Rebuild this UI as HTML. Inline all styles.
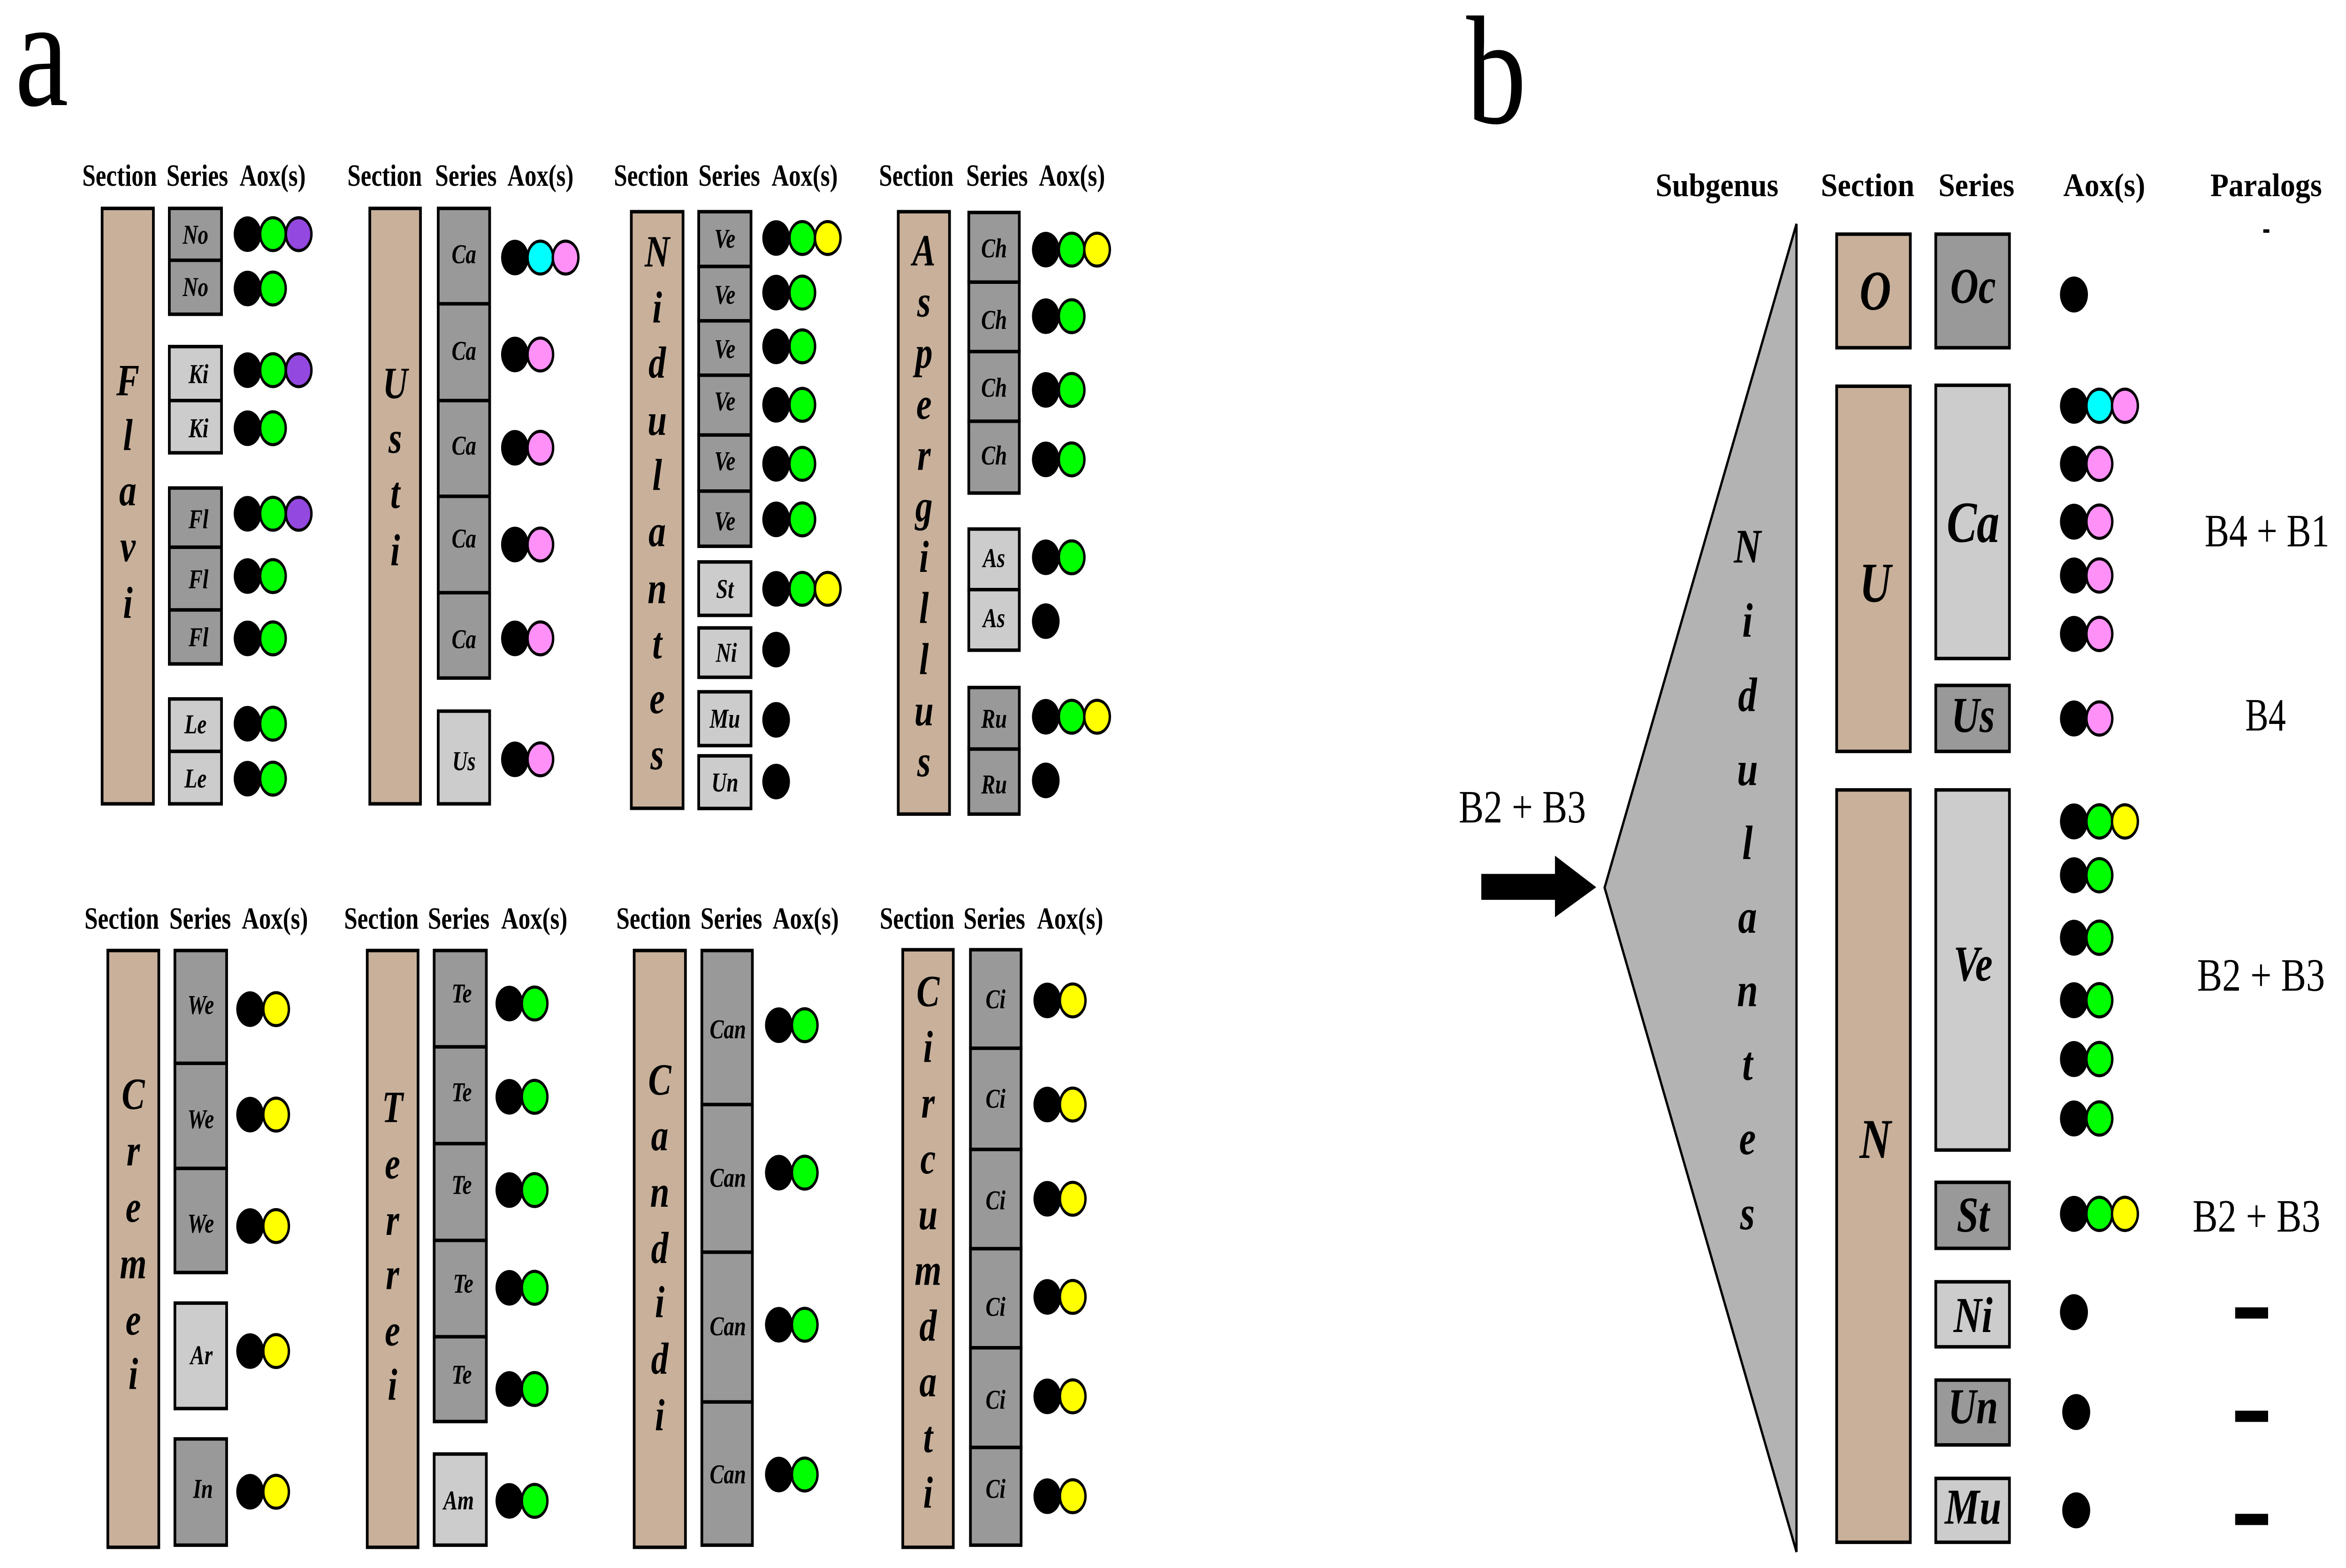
<!DOCTYPE html>
<html><head><meta charset="utf-8"><style>
html,body{margin:0;padding:0;background:#fff;width:100%;height:100%;overflow:hidden}
svg{display:block;position:absolute;left:0;top:0;width:100vw;height:100vh}
text{font-family:"Liberation Serif",serif;fill:#000}
.h{font-weight:bold;font-size:16px}
.L{font-weight:bold;font-style:italic;font-size:23px;text-anchor:middle}
.s{font-weight:bold;font-style:italic;font-size:14px;text-anchor:middle}
.sb{font-weight:bold;font-style:italic;font-size:26px;text-anchor:middle}
.r{font-size:24px}
.t{fill:#c8b09a;stroke:#000;stroke-width:1.8}
.d{fill:#999;stroke:#000;stroke-width:1.8}
.l{fill:#ccc;stroke:#000;stroke-width:1.8}
.k{fill:#000}
.g{fill:#00ff00;stroke:#000;stroke-width:1.6}
.p{fill:#9348e0;stroke:#000;stroke-width:1.6}
.c{fill:#00ffff;stroke:#000;stroke-width:1.6}
.m{fill:#ff90f8;stroke:#000;stroke-width:1.6}
.y{fill:#ffff00;stroke:#000;stroke-width:1.6}
</style></head><body>
<svg viewBox="0 0 1560 810.3" preserveAspectRatio="none" xmlns="http://www.w3.org/2000/svg">
<text x="10" y="54.3" style="font-size:80px">a</text>
<text x="975" y="63.5" style="font-size:80px">b</text>

<g class="h">
<text x="54.7" y="96" textLength="49.6" lengthAdjust="spacingAndGlyphs">Section</text>
<text x="110.7" y="96" textLength="41" lengthAdjust="spacingAndGlyphs">Series</text>
<text x="159.3" y="96" textLength="44" lengthAdjust="spacingAndGlyphs">Aox(s)</text>
<text x="231" y="96" textLength="49.6" lengthAdjust="spacingAndGlyphs">Section</text>
<text x="289.3" y="96" textLength="41" lengthAdjust="spacingAndGlyphs">Series</text>
<text x="337.4" y="96" textLength="44" lengthAdjust="spacingAndGlyphs">Aox(s)</text>
<text x="408.2" y="96" textLength="49.6" lengthAdjust="spacingAndGlyphs">Section</text>
<text x="464.4" y="96" textLength="41" lengthAdjust="spacingAndGlyphs">Series</text>
<text x="513.1" y="96" textLength="44" lengthAdjust="spacingAndGlyphs">Aox(s)</text>
<text x="584.5" y="96" textLength="49.6" lengthAdjust="spacingAndGlyphs">Section</text>
<text x="642.5" y="96" textLength="41" lengthAdjust="spacingAndGlyphs">Series</text>
<text x="690.8" y="96" textLength="44" lengthAdjust="spacingAndGlyphs">Aox(s)</text>
<text x="56.2" y="480" textLength="49.6" lengthAdjust="spacingAndGlyphs">Section</text>
<text x="112.6" y="480" textLength="41" lengthAdjust="spacingAndGlyphs">Series</text>
<text x="160.8" y="480" textLength="44" lengthAdjust="spacingAndGlyphs">Aox(s)</text>
<text x="228.8" y="480" textLength="49.6" lengthAdjust="spacingAndGlyphs">Section</text>
<text x="284.5" y="480" textLength="41" lengthAdjust="spacingAndGlyphs">Series</text>
<text x="333.3" y="480" textLength="44" lengthAdjust="spacingAndGlyphs">Aox(s)</text>
<text x="409.8" y="480" textLength="49.6" lengthAdjust="spacingAndGlyphs">Section</text>
<text x="465.8" y="480" textLength="41" lengthAdjust="spacingAndGlyphs">Series</text>
<text x="513.8" y="480" textLength="44" lengthAdjust="spacingAndGlyphs">Aox(s)</text>
<text x="585" y="480" textLength="49.6" lengthAdjust="spacingAndGlyphs">Section</text>
<text x="640.7" y="480" textLength="41" lengthAdjust="spacingAndGlyphs">Series</text>
<text x="689.6" y="480" textLength="44" lengthAdjust="spacingAndGlyphs">Aox(s)</text>
</g>

<!-- FLAVI -->
<rect class="t" x="67.9" y="107.7" width="34.1" height="307.7"/>
<g class="L"><text x="85" y="204.3">F</text><text x="85" y="232.7">l</text><text x="85" y="261.1">a</text><text x="85" y="290">v</text><text x="85" y="319.3">i</text></g>
<rect class="d" x="112.6" y="107.7" width="34.7" height="26.8"/>
<rect class="d" x="112.6" y="134.5" width="34.7" height="27.9"/>
<rect class="l" x="112.6" y="179.1" width="34.7" height="27.9"/>
<rect class="l" x="112.6" y="207" width="34.7" height="27"/>
<rect class="d" x="112.6" y="252.2" width="34.7" height="30.6"/>
<rect class="d" x="112.6" y="282.8" width="34.7" height="32.4"/>
<rect class="d" x="112.6" y="315.2" width="34.7" height="27.9"/>
<rect class="l" x="112.6" y="361.2" width="34.7" height="27.1"/>
<rect class="l" x="112.6" y="388.3" width="34.7" height="27.1"/>
<g class="s"><text x="130" y="126">No</text><text x="130" y="153">No</text><text x="132" y="198">Ki</text><text x="132" y="226">Ki</text><text x="132" y="273">Fl</text><text x="132" y="304">Fl</text><text x="132" y="334">Fl</text><text x="130" y="379">Le</text><text x="130" y="407">Le</text></g>
<g>
<circle class="k" cx="164.6" cy="121" r="9.2"/><circle class="g" cx="181.5" cy="121" r="8.5"/><circle class="p" cx="198.6" cy="121" r="8.5"/>
<circle class="k" cx="164.6" cy="149.1" r="9.2"/><circle class="g" cx="181.5" cy="149.1" r="8.5"/>
<circle class="k" cx="164.6" cy="191.3" r="9.2"/><circle class="g" cx="181.5" cy="191.3" r="8.5"/><circle class="p" cx="198.6" cy="191.3" r="8.5"/>
<circle class="k" cx="164.6" cy="221.3" r="9.2"/><circle class="g" cx="181.5" cy="221.3" r="8.5"/>
<circle class="k" cx="164.6" cy="265.5" r="9.2"/><circle class="g" cx="181.5" cy="265.5" r="8.5"/><circle class="p" cx="198.6" cy="265.5" r="8.5"/>
<circle class="k" cx="164.6" cy="297.7" r="9.2"/><circle class="g" cx="181.5" cy="297.7" r="8.5"/>
<circle class="k" cx="164.6" cy="329.9" r="9.2"/><circle class="g" cx="181.5" cy="329.9" r="8.5"/>
<circle class="k" cx="164.6" cy="374" r="9.2"/><circle class="g" cx="181.5" cy="374" r="8.5"/>
<circle class="k" cx="164.6" cy="402.4" r="9.2"/><circle class="g" cx="181.5" cy="402.4" r="8.5"/>
</g>

<!-- USTI -->
<rect class="t" x="245.9" y="107.7" width="33.7" height="307.7"/>
<g class="L"><text x="262.8" y="205.7">U</text><text x="262.8" y="234">s</text><text x="262.8" y="262.5">t</text><text x="262.8" y="292.2">i</text></g>
<rect class="d" x="291.4" y="107.7" width="34.2" height="49.3"/>
<rect class="d" x="291.4" y="157" width="34.2" height="50"/>
<rect class="d" x="291.4" y="207" width="34.2" height="49.5"/>
<rect class="d" x="291.4" y="256.5" width="34.2" height="49.8"/>
<rect class="d" x="291.4" y="306.3" width="34.2" height="44.1"/>
<rect class="l" x="291.4" y="367.5" width="34.2" height="47.9"/>
<g class="s"><text x="308.5" y="136">Ca</text><text x="308.5" y="186">Ca</text><text x="308.5" y="235">Ca</text><text x="308.5" y="283">Ca</text><text x="308.5" y="335">Ca</text><text x="308.5" y="398">Us</text></g>
<g>
<circle class="k" cx="342.4" cy="133.1" r="9.2"/><circle class="c" cx="359.3" cy="133.1" r="8.5"/><circle class="m" cx="376.1" cy="133.1" r="8.5"/>
<circle class="k" cx="342.4" cy="183.2" r="9.2"/><circle class="m" cx="359.3" cy="183.2" r="8.5"/>
<circle class="k" cx="342.4" cy="231.4" r="9.2"/><circle class="m" cx="359.3" cy="231.4" r="8.5"/>
<circle class="k" cx="342.4" cy="281.4" r="9.2"/><circle class="m" cx="359.3" cy="281.4" r="8.5"/>
<circle class="k" cx="342.4" cy="329.9" r="9.2"/><circle class="m" cx="359.3" cy="329.9" r="8.5"/>
<circle class="k" cx="342.4" cy="392.4" r="9.2"/><circle class="m" cx="359.3" cy="392.4" r="8.5"/>
</g>

<!-- NIDULANTES (a) -->
<rect class="t" x="419.8" y="109.4" width="34.4" height="308.3"/>
<g class="L"><text x="437" y="137.7">N</text><text x="437" y="166.7">i</text><text x="437" y="195.2">d</text><text x="437" y="224.7">u</text><text x="437" y="253.2">l</text><text x="437" y="282.2">a</text><text x="437" y="311.7">n</text><text x="437" y="340.2">t</text><text x="437" y="368.5">e</text><text x="437" y="397.5">s</text></g>
<rect class="d" x="464.6" y="109.4" width="34.8" height="28.3"/>
<rect class="d" x="464.6" y="137.7" width="34.8" height="28.1"/>
<rect class="d" x="464.6" y="165.8" width="34.8" height="28.1"/>
<rect class="d" x="464.6" y="193.9" width="34.8" height="30.9"/>
<rect class="d" x="464.6" y="224.8" width="34.8" height="29"/>
<rect class="d" x="464.6" y="253.8" width="34.8" height="28.5"/>
<rect class="l" x="464.6" y="290.4" width="34.8" height="27.6"/>
<rect class="l" x="464.6" y="324.5" width="34.8" height="25.5"/>
<rect class="l" x="464.6" y="357.5" width="34.8" height="27.8"/>
<rect class="l" x="464.6" y="390.6" width="34.8" height="27.2"/>
<g class="s"><text x="482" y="128">Ve</text><text x="482" y="157">Ve</text><text x="482" y="185">Ve</text><text x="482" y="212">Ve</text><text x="482" y="243">Ve</text><text x="482" y="274">Ve</text><text x="482" y="309">St</text><text x="483" y="342">Ni</text><text x="482" y="376">Mu</text><text x="482" y="409">Un</text></g>
<g>
<circle class="k" cx="516.1" cy="123" r="9.2"/><circle class="g" cx="533.5" cy="123" r="8.5"/><circle class="y" cx="550.4" cy="123" r="8.5"/>
<circle class="k" cx="516.1" cy="151.2" r="9.2"/><circle class="g" cx="533.5" cy="151.2" r="8.5"/>
<circle class="k" cx="516.1" cy="179" r="9.2"/><circle class="g" cx="533.5" cy="179" r="8.5"/>
<circle class="k" cx="516.1" cy="209.2" r="9.2"/><circle class="g" cx="533.5" cy="209.2" r="8.5"/>
<circle class="k" cx="516.1" cy="239.7" r="9.2"/><circle class="g" cx="533.5" cy="239.7" r="8.5"/>
<circle class="k" cx="516.1" cy="268.4" r="9.2"/><circle class="g" cx="533.5" cy="268.4" r="8.5"/>
<circle class="k" cx="516.1" cy="304.3" r="9.2"/><circle class="g" cx="533.5" cy="304.3" r="8.5"/><circle class="y" cx="550.4" cy="304.3" r="8.5"/>
<circle class="k" cx="516.1" cy="335.7" r="9.2"/>
<circle class="k" cx="516.1" cy="372" r="9.2"/>
<circle class="k" cx="516.1" cy="403.9" r="9.2"/>
</g>

<!-- ASPERGILLUS -->
<rect class="t" x="597.3" y="109.4" width="34.1" height="311.3"/>
<g class="L"><text x="614.4" y="137.2">A</text><text x="614.4" y="163.6">s</text><text x="614.4" y="190">p</text><text x="614.4" y="216.4">e</text><text x="614.4" y="242.8">r</text><text x="614.4" y="269.2">g</text><text x="614.4" y="295.6">i</text><text x="614.4" y="322">l</text><text x="614.4" y="348.4">l</text><text x="614.4" y="374.8">u</text><text x="614.4" y="401.2">s</text></g>
<rect class="d" x="644.2" y="109.8" width="33.6" height="36"/>
<rect class="d" x="644.2" y="145.8" width="33.6" height="35.9"/>
<rect class="d" x="644.2" y="181.7" width="33.6" height="36"/>
<rect class="d" x="644.2" y="217.7" width="33.6" height="37.1"/>
<rect class="l" x="644.2" y="273.4" width="33.6" height="31.3"/>
<rect class="l" x="644.2" y="304.7" width="33.6" height="31.3"/>
<rect class="d" x="644.2" y="355.3" width="33.6" height="31.8"/>
<rect class="d" x="644.2" y="387.1" width="33.6" height="33.6"/>
<g class="s"><text x="661" y="133">Ch</text><text x="661" y="170">Ch</text><text x="661" y="205">Ch</text><text x="661" y="240">Ch</text><text x="661" y="293">As</text><text x="661" y="324">As</text><text x="661" y="376">Ru</text><text x="661" y="410">Ru</text></g>
<g>
<circle class="k" cx="695.4" cy="129" r="9.2"/><circle class="g" cx="712.6" cy="129" r="8.5"/><circle class="y" cx="729.5" cy="129" r="8.5"/>
<circle class="k" cx="695.4" cy="163.4" r="9.2"/><circle class="g" cx="712.6" cy="163.4" r="8.5"/>
<circle class="k" cx="695.4" cy="201.5" r="9.2"/><circle class="g" cx="712.6" cy="201.5" r="8.5"/>
<circle class="k" cx="695.4" cy="237.4" r="9.2"/><circle class="g" cx="712.6" cy="237.4" r="8.5"/>
<circle class="k" cx="695.4" cy="288" r="9.2"/><circle class="g" cx="712.6" cy="288" r="8.5"/>
<circle class="k" cx="695.4" cy="321" r="9.2"/>
<circle class="k" cx="695.4" cy="370.4" r="9.2"/><circle class="g" cx="712.6" cy="370.4" r="8.5"/><circle class="y" cx="729.5" cy="370.4" r="8.5"/>
<circle class="k" cx="695.4" cy="403.3" r="9.2"/>
</g>

<!-- CREMEI -->
<rect class="t" x="71.7" y="491.2" width="33.9" height="308.4"/>
<g class="L"><text x="88.6" y="573">C</text><text x="88.6" y="602.3">r</text><text x="88.6" y="631.4">e</text><text x="88.6" y="660.6">m</text><text x="88.6" y="689.7">e</text><text x="88.6" y="717.8">i</text></g>
<rect class="d" x="116.3" y="491.2" width="34.4" height="58.3"/>
<rect class="d" x="116.3" y="549.5" width="34.4" height="54.3"/>
<rect class="d" x="116.3" y="603.8" width="34.4" height="53.8"/>
<rect class="l" x="116.3" y="673.4" width="34.4" height="54.5"/>
<rect class="d" x="116.3" y="743.6" width="34.4" height="54.9"/>
<g class="s"><text x="133.5" y="524">We</text><text x="133.5" y="583">We</text><text x="133.5" y="637">We</text><text x="134" y="705">Ar</text><text x="135" y="774">In</text></g>
<g>
<circle class="k" cx="166.3" cy="521.5" r="9.2"/><circle class="y" cx="183.6" cy="521.5" r="8.5"/>
<circle class="k" cx="166.3" cy="576" r="9.2"/><circle class="y" cx="183.6" cy="576" r="8.5"/>
<circle class="k" cx="166.3" cy="633.6" r="9.2"/><circle class="y" cx="183.6" cy="633.6" r="8.5"/>
<circle class="k" cx="166.3" cy="698.2" r="9.2"/><circle class="y" cx="183.6" cy="698.2" r="8.5"/>
<circle class="k" cx="166.3" cy="770.9" r="9.2"/><circle class="y" cx="183.6" cy="770.9" r="8.5"/>
</g>

<!-- TERREI -->
<rect class="t" x="244.2" y="491.2" width="33.8" height="308.4"/>
<g class="L"><text x="261" y="579.8">T</text><text x="261" y="609">e</text><text x="261" y="638.1">r</text><text x="261" y="666.2">r</text><text x="261" y="695.3">e</text><text x="261" y="723.4">i</text></g>
<rect class="d" x="288.7" y="491.2" width="34.7" height="49.8"/>
<rect class="d" x="288.7" y="541" width="34.7" height="50"/>
<rect class="d" x="288.7" y="591" width="34.7" height="50"/>
<rect class="d" x="288.7" y="641" width="34.7" height="49.8"/>
<rect class="d" x="288.7" y="690.8" width="34.7" height="43.8"/>
<rect class="l" x="288.7" y="751.4" width="34.7" height="47.1"/>
<g class="s"><text x="307" y="518">Te</text><text x="307" y="569">Te</text><text x="307" y="617">Te</text><text x="308" y="668">Te</text><text x="307" y="715">Te</text><text x="305" y="780">Am</text></g>
<g>
<circle class="k" cx="338.7" cy="518.6" r="9.2"/><circle class="g" cx="355.5" cy="518.6" r="8.5"/>
<circle class="k" cx="338.7" cy="566.8" r="9.2"/><circle class="g" cx="355.5" cy="566.8" r="8.5"/>
<circle class="k" cx="338.7" cy="615" r="9.2"/><circle class="g" cx="355.5" cy="615" r="8.5"/>
<circle class="k" cx="338.7" cy="665.5" r="9.2"/><circle class="g" cx="355.5" cy="665.5" r="8.5"/>
<circle class="k" cx="338.7" cy="717.8" r="9.2"/><circle class="g" cx="355.5" cy="717.8" r="8.5"/>
<circle class="k" cx="338.7" cy="775.6" r="9.2"/><circle class="g" cx="355.5" cy="775.6" r="8.5"/>
</g>

<!-- CANDIDI -->
<rect class="t" x="421.7" y="491.2" width="34.1" height="308.4"/>
<g class="L"><text x="438.7" y="565.7">C</text><text x="438.7" y="594.4">a</text><text x="438.7" y="623.6">n</text><text x="438.7" y="652.7">d</text><text x="438.7" y="680.7">i</text><text x="438.7" y="709.9">d</text><text x="438.7" y="739.1">i</text></g>
<rect class="d" x="466.7" y="491.2" width="33.6" height="79.6"/>
<rect class="d" x="466.7" y="570.8" width="33.6" height="76.3"/>
<rect class="d" x="466.7" y="647.1" width="33.6" height="77.4"/>
<rect class="d" x="466.7" y="724.5" width="33.6" height="74"/>
<g class="s"><text x="484" y="536.6">Can</text><text x="484" y="613.3">Can</text><text x="484" y="690">Can</text><text x="484" y="766.5">Can</text></g>
<g>
<circle class="k" cx="517.9" cy="529.8" r="9.2"/><circle class="g" cx="535.1" cy="529.8" r="8.5"/>
<circle class="k" cx="517.9" cy="606" r="9.2"/><circle class="g" cx="535.1" cy="606" r="8.5"/>
<circle class="k" cx="517.9" cy="684.6" r="9.2"/><circle class="g" cx="535.1" cy="684.6" r="8.5"/>
<circle class="k" cx="517.9" cy="762" r="9.2"/><circle class="g" cx="535.1" cy="762" r="8.5"/>
</g>

<!-- CIRCUMDATI -->
<rect class="t" x="600.3" y="490.8" width="33.6" height="308.8"/>
<g class="L"><text x="617.1" y="520">C</text><text x="617.1" y="548.8">i</text><text x="617.1" y="577.6">r</text><text x="617.1" y="606.4">c</text><text x="617.1" y="635.2">u</text><text x="617.1" y="664">m</text><text x="617.1" y="692.8">d</text><text x="617.1" y="721.6">a</text><text x="617.1" y="750.4">t</text><text x="617.1" y="779.2">i</text></g>
<rect class="d" x="645.3" y="490.8" width="33.7" height="50.9"/>
<rect class="d" x="645.3" y="541.7" width="33.7" height="52.3"/>
<rect class="d" x="645.3" y="594" width="33.7" height="51.3"/>
<rect class="d" x="645.3" y="645.3" width="33.7" height="51.2"/>
<rect class="d" x="645.3" y="696.5" width="33.7" height="51.5"/>
<rect class="d" x="645.3" y="748" width="33.7" height="50.5"/>
<g class="s"><text x="662" y="521">Ci</text><text x="662" y="572.5">Ci</text><text x="662" y="625">Ci</text><text x="662" y="680">Ci</text><text x="662" y="728">Ci</text><text x="662" y="774">Ci</text></g>
<g>
<circle class="k" cx="696.4" cy="517" r="9.2"/><circle class="y" cx="713.3" cy="517" r="8.5"/>
<circle class="k" cx="696.4" cy="570.8" r="9.2"/><circle class="y" cx="713.3" cy="570.8" r="8.5"/>
<circle class="k" cx="696.4" cy="619.5" r="9.2"/><circle class="y" cx="713.3" cy="619.5" r="8.5"/>
<circle class="k" cx="696.4" cy="670.2" r="9.2"/><circle class="y" cx="713.3" cy="670.2" r="8.5"/>
<circle class="k" cx="696.4" cy="721.6" r="9.2"/><circle class="y" cx="713.3" cy="721.6" r="8.5"/>
<circle class="k" cx="696.4" cy="773.2" r="9.2"/><circle class="y" cx="713.3" cy="773.2" r="8.5"/>
</g>

<!-- PANEL B -->
<g class="h" style="font-size:17px">
<text x="1100.9" y="101.4" textLength="81.7" lengthAdjust="spacingAndGlyphs">Subgenus</text>
<text x="1210.8" y="101.4" textLength="62.2" lengthAdjust="spacingAndGlyphs">Section</text>
<text x="1289" y="101.4" textLength="50.5" lengthAdjust="spacingAndGlyphs">Series</text>
<text x="1372" y="101.4" textLength="54.5" lengthAdjust="spacingAndGlyphs">Aox(s)</text>
<text x="1469.8" y="101.4" textLength="74.2" lengthAdjust="spacingAndGlyphs">Paralogs</text>
</g>
<rect x="1505" y="118.5" width="4" height="1.8" fill="#000"/>

<polygon points="1194.6,115.7 1194.6,802 1067,458.7" fill="#b3b3b3" stroke="#000" stroke-width="1.5"/>
<g class="L" style="font-size:25px"><text x="1162" y="290.7">N</text><text x="1162" y="329">i</text><text x="1162" y="367.4">d</text><text x="1162" y="405.8">u</text><text x="1162" y="444">l</text><text x="1162" y="482">a</text><text x="1162" y="520">n</text><text x="1162" y="558">t</text><text x="1162" y="596.4">e</text><text x="1162" y="635.2">s</text></g>

<polygon points="985,451.6 1034,451.6 1034,442.2 1061.4,458.5 1034,474 1034,465 985,465" fill="#000"/>
<text class="r" x="970" y="425" textLength="84.6" lengthAdjust="spacingAndGlyphs">B2 + B3</text>

<rect class="t" x="1221.3" y="121" width="49" height="58.7"/>
<rect class="t" x="1221.3" y="199.6" width="49" height="188.7"/>
<rect class="t" x="1221.3" y="408.2" width="49" height="388.8"/>
<g class="sb" style="font-size:29px"><text x="1247" y="160">O</text><text x="1247" y="311">U</text><text x="1247" y="598.4">N</text></g>

<rect class="d" x="1287.2" y="121" width="49" height="58.7"/>
<rect class="l" x="1287.2" y="199.1" width="49" height="141.2"/>
<rect class="d" x="1287.2" y="354.2" width="49" height="34.1"/>
<rect class="l" x="1287.2" y="408.2" width="49" height="186.1"/>
<rect class="d" x="1287.2" y="611" width="49" height="34.1"/>
<rect class="l" x="1287.2" y="662.4" width="49" height="33.6"/>
<rect class="d" x="1287.2" y="713.2" width="49" height="33.5"/>
<rect class="l" x="1287.2" y="764" width="49" height="33"/>
<g class="sb"><text x="1312" y="156.5">Oc</text><text x="1312" y="280" style="font-size:30px">Ca</text><text x="1312" y="378.2">Us</text><text x="1312" y="506.7">Ve</text><text x="1312" y="636.5">St</text><text x="1312" y="688.3">Ni</text><text x="1312" y="735.5">Un</text><text x="1312" y="787.4">Mu</text></g>

<g>
<circle class="k" cx="1379.1" cy="152.2" r="9.3"/>
<circle class="k" cx="1379.1" cy="209.7" r="9.3"/><circle class="c" cx="1396" cy="209.7" r="8.6"/><circle class="m" cx="1413" cy="209.7" r="8.6"/>
<circle class="k" cx="1379.1" cy="239.7" r="9.3"/><circle class="m" cx="1396" cy="239.7" r="8.6"/>
<circle class="k" cx="1379.1" cy="269.6" r="9.3"/><circle class="m" cx="1396" cy="269.6" r="8.6"/>
<circle class="k" cx="1379.1" cy="297.4" r="9.3"/><circle class="m" cx="1396" cy="297.4" r="8.6"/>
<circle class="k" cx="1379.1" cy="327.6" r="9.3"/><circle class="m" cx="1396" cy="327.6" r="8.6"/>
<circle class="k" cx="1379.1" cy="371.3" r="9.3"/><circle class="m" cx="1396" cy="371.3" r="8.6"/>
<circle class="k" cx="1379.1" cy="424.5" r="9.3"/><circle class="g" cx="1396" cy="424.5" r="8.6"/><circle class="y" cx="1413" cy="424.5" r="8.6"/>
<circle class="k" cx="1379.1" cy="452.3" r="9.3"/><circle class="g" cx="1396" cy="452.3" r="8.6"/>
<circle class="k" cx="1379.1" cy="484.6" r="9.3"/><circle class="g" cx="1396" cy="484.6" r="8.6"/>
<circle class="k" cx="1379.1" cy="516.9" r="9.3"/><circle class="g" cx="1396" cy="516.9" r="8.6"/>
<circle class="k" cx="1379.1" cy="547.3" r="9.3"/><circle class="g" cx="1396" cy="547.3" r="8.6"/>
<circle class="k" cx="1379.1" cy="578" r="9.3"/><circle class="g" cx="1396" cy="578" r="8.6"/>
<circle class="k" cx="1379.1" cy="627.3" r="9.3"/><circle class="g" cx="1396" cy="627.3" r="8.6"/><circle class="y" cx="1413" cy="627.3" r="8.6"/>
<circle class="k" cx="1379.1" cy="678.1" r="9.3"/>
<circle class="k" cx="1380.6" cy="729.7" r="9.3"/>
<circle class="k" cx="1380.6" cy="780.5" r="9.3"/>
</g>

<g class="r">
<text x="1466" y="282.3" textLength="83" lengthAdjust="spacingAndGlyphs">B4 + B1</text>
<text x="1493" y="377.5" textLength="27" lengthAdjust="spacingAndGlyphs">B4</text>
<text x="1461" y="512" textLength="85" lengthAdjust="spacingAndGlyphs">B2 + B3</text>
<text x="1458" y="636.5" textLength="85" lengthAdjust="spacingAndGlyphs">B2 + B3</text>
</g>
<rect x="1486.3" y="675.6" width="21.9" height="5.8" fill="#000"/>
<rect x="1486.3" y="729" width="21.9" height="5.8" fill="#000"/>
<rect x="1486.3" y="782.3" width="21.9" height="5.8" fill="#000"/>
</svg>
</body></html>
